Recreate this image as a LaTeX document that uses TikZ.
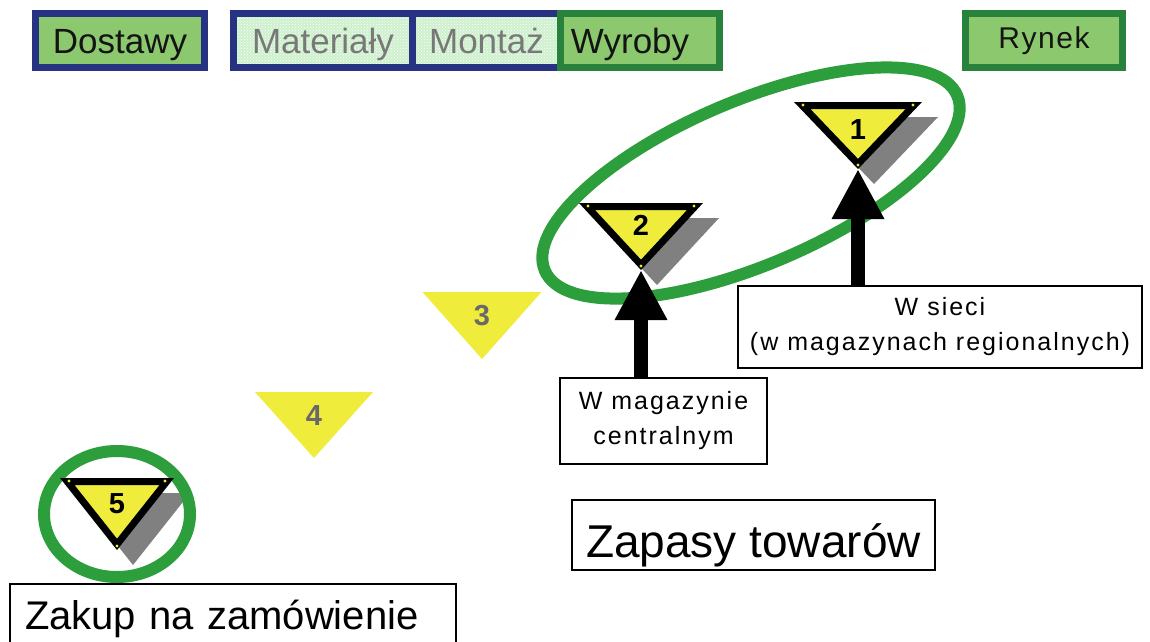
\documentclass[tikz,border=0pt]{standalone}
\usepackage{fontspec}
\setmainfont{Liberation Sans}
\newfontfamily\spacedfont[LetterSpace=8]{Liberation Sans}
\newfontfamily\rynekfont[LetterSpace=5]{Liberation Sans}
\usetikzlibrary{arrows.meta,patterns}
\definecolor{navy}{RGB}{40,50,130}
\definecolor{dkgreen}{RGB}{40,130,60}
\definecolor{ringgreen}{RGB}{45,158,60}
\definecolor{boxgreen}{RGB}{140,200,110}
\definecolor{mint}{RGB}{205,240,205}
\definecolor{triyellow}{RGB}{240,236,60}
\definecolor{shadowgrey}{RGB}{128,128,128}
\definecolor{numgrey}{RGB}{105,105,105}
\definecolor{labeldark}{RGB}{20,20,20}
\definecolor{labelgrey}{RGB}{120,120,120}
% shadow: cx top hw h
\newcommand{\trishadow}[4]{%
  \fill[shadowgrey] ({#1-#3+16},{#2+15}) -- ({#1+#3+16},{#2+15}) -- ({#1+16},{#2+#4+15}) -- cycle;}
% face: name cx top hw h label labeloffset
\newcommand{\triface}[7]{%
  \pgfmathsetmacro\trR{#4*#5/(#4+sqrt(#4*#4+#5*#5))}%
  \pgfmathsetmacro\trS{(\trR-3.5)/\trR}%
  \pgfmathsetmacro\trTop{#3+\trR-\trR*\trS}%
  \pgfmathsetmacro\trHw{#4*\trS}%
  \pgfmathsetmacro\trAp{#3+\trR+(#5-\trR)*\trS}%
  \filldraw[fill=triyellow, draw=black, line width=7pt, line join=miter]
    ({#2-\trHw},\trTop) -- ({#2+\trHw},\trTop) -- (#2,\trAp) -- cycle;
  \fill[triyellow] ({#2-#4+9},{#3+3}) circle[radius=1.6]
                   ({#2+#4-9},{#3+3}) circle[radius=1.6]
                   (#2,{#3+#5-4}) circle[radius=1.6];
  \node[numlabel] (n#6) at (#2,{#3+#7}) {#6};
  \coordinate (#1) at (#2,{#3+#5});}
% plain: cx top hw h label labeloffset
\newcommand{\triplain}[6]{%
  \fill[triyellow] ({#1-#3},#2) -- ({#1+#3},#2) -- (#1,{#2+#4}) -- cycle;
  \node[numlabel, text=numgrey] (n#5) at (#1,{#2+#6}) {#5};}
\begin{document}
\begin{tikzpicture}[x=1pt,y=-1pt,
  topbox/.style={line width=7pt, minimum height=54pt, inner sep=0pt,
    text height=25pt, text depth=0pt, font=\fontsize{35}{40}\selectfont, text=labeldark},
  mintbox/.style={topbox, draw=navy, preaction={fill=mint},
    pattern=crosshatch dots, pattern color=white, text=labelgrey},
  ring/.style={draw=ringgreen, line width=12pt},
  numlabel/.style={inner sep=0pt, font=\bfseries\fontsize{29}{29}\selectfont,
    text height=21pt, text depth=0pt},
  textbox/.style={draw=black, fill=white, line width=2pt, inner sep=0pt,
    align=center, font=\spacedfont\fontsize{25}{35}\selectfont},
  bigarrow/.style={line width=14pt, -{Triangle[width=49pt,length=50pt]}}
]
\useasboundingbox (0,0) rectangle (1150,641);
\fill[white] (0,0) rectangle (1150,641);
\clip (0,0) rectangle (1150,641);

% top row
\node[topbox, draw=navy, fill=boxgreen, minimum width=169pt] (dostawy) at (120,40.5) {Dostawy};
\node[mintbox, minimum width=179pt] (materialy) at (323,40.5) {Materiały};
\node[mintbox, minimum width=148pt] (montaz) at (486.5,40.5) {Montaż};
\node[topbox, draw=dkgreen, fill=boxgreen, minimum width=159pt] (wyroby) at (640,40.5) {Wyroby\hspace*{20pt}};
\node[topbox, draw=dkgreen, fill=boxgreen, minimum width=157pt,
  font=\rynekfont\fontsize{30}{36}\selectfont, text height=21.5pt, text depth=5pt]
  (rynek) at (1044,40.5) {Rynek};

% big ellipse
\draw[ring, rotate around={23:(751,183)}] (751,183) ellipse[x radius=224, y radius=82];

% triangle 5 with ring
\trishadow{117}{478}{57}{72}
\draw[ring] (117,514) ellipse[x radius=73, y radius=63];
\triface{t5}{117}{478}{57}{72}{5}{25}

% plain triangles
\triplain{482}{292}{59.5}{67}{3}{23}
\triplain{314}{392}{59}{66}{4}{23}

% triangles 2 and 1
\trishadow{641}{203}{62}{67}
\triface{t2}{641}{203}{62}{67}{2}{22}
\trishadow{858}{102}{64}{67}
\triface{t1}{858}{102}{64}{67}{1}{27}

% boxes
\node[textbox, minimum width=404pt, minimum height=82pt] (wsieci) at (940,327)
  {W sieci\\(w magazynach regionalnych)};
\node[textbox, minimum width=207pt, minimum height=86pt] (wmag) at (663.5,421)
  {W magazynie\\centralnym};

% arrows
\draw[bigarrow] (t1 |- wsieci.north) -- (t1);
\draw[bigarrow] (t2 |- wmag.north) -- (t2);

\node[draw=black, line width=2pt, fill=white, minimum width=363pt, minimum height=70pt,
  inner sep=0pt, font=\fontsize{46}{50}\selectfont, text height=44pt, text depth=0pt]
  (zapasy) at (753.5,535) {Zapasy towarów};
\node[draw=black, line width=2pt, fill=white, text width=416pt, align=left,
  inner xsep=15pt, inner ysep=0pt, minimum height=64pt,
  font=\fontsize{40}{44}\selectfont, text height=26pt, text depth=0pt]
  (zakup) at (233,616) {Zakup na zamówienie};
\end{tikzpicture}
\end{document}
